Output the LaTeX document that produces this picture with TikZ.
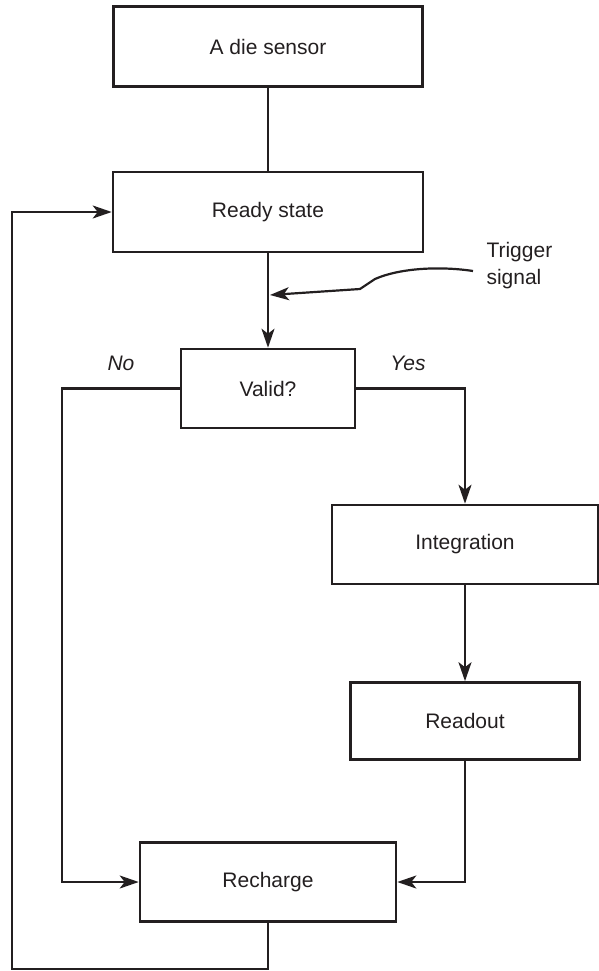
\documentclass[tikz,border=0pt]{standalone}
\usepackage{fontspec}
\setmainfont{Liberation Sans}
\usetikzlibrary{arrows.meta}
\definecolor{ink}{RGB}{35,31,32}

\begin{document}
\begin{tikzpicture}[x=1pt,y=-1pt,>={Stealth[length=19pt,width=13pt,inset=5pt]},
  font=\fontsize{21}{27}\selectfont,color=ink,
  blk/.style={draw,line width=2.6pt,inner sep=0pt,minimum height=80pt},
  wire/.style={line width=2.2pt}]
  \useasboundingbox (0,0) rectangle (599,971);
  % boxes
  \node[blk,minimum width=309pt] (sensor) at (268,46.5) {A die sensor};
  \node[blk,minimum width=310pt] (ready) at (268,212) {Ready state};
  \node[blk,minimum width=174pt,minimum height=79pt] (valid) at (268,388.5) {Valid?};
  \node[blk,minimum width=266pt,minimum height=79pt] (integ) at (465,544.5) {Integration};
  \node[blk,minimum width=229pt,minimum height=77pt] (readout) at (465,721) {Readout};
  \node[blk,minimum width=256pt,minimum height=79pt] (recharge) at (268,882) {Recharge};
  \node[align=left,anchor=west] (trig) at (483,266) {Trigger\\signal};
  \node[font=\fontsize{21}{27}\selectfont\itshape] (no) at (121,363) {No};
  \node[font=\fontsize{21}{27}\selectfont\itshape] (yes) at (408,363) {Yes};
  \coordinate (tsrc) at (473,271);
  \coordinate (thit) at (270,295);
  \coordinate (loopcorner) at (12,969);
  % connectors
  \draw[wire] (sensor) -- (ready);
  \draw[wire,->] (ready) -- (valid);
  \draw[wire,->] (tsrc) .. controls (440,266) and (400,268) .. (375,279) -- (360,289)
    .. controls (330,291) and (300,293) .. (thit);
  \draw[wire,->] (valid.west) -- ++(-118,0) |- (recharge.west);
  \draw[wire,->] (valid.east) -| (integ.north);
  \draw[wire,->] (integ) -- (readout);
  \draw[wire,->] (readout.south) |- (recharge.east);
  \draw[wire,->] (recharge.south) |- (loopcorner) |- (ready.west);
\end{tikzpicture}
\end{document}
